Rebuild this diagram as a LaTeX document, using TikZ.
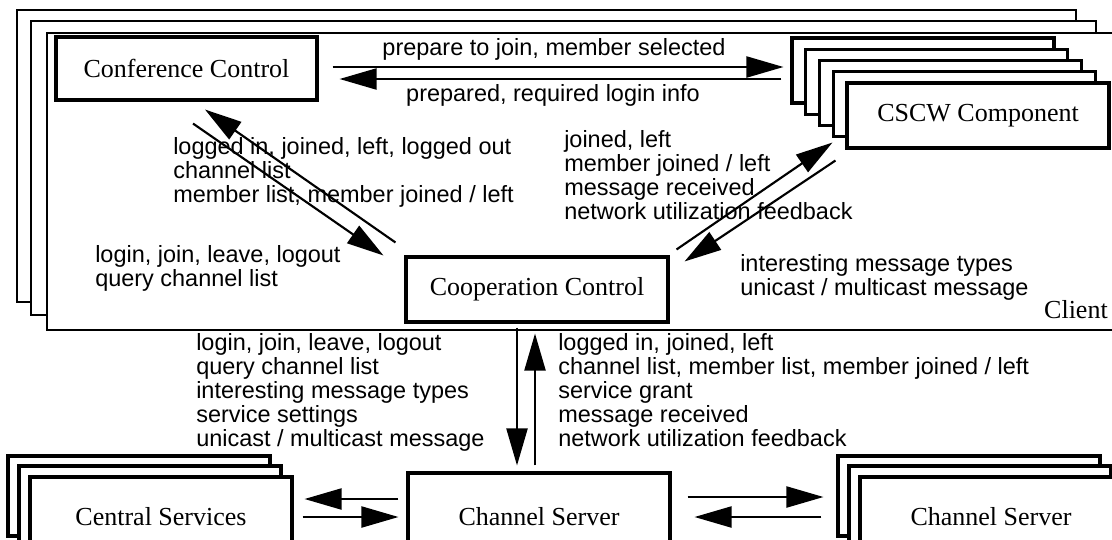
\documentclass[tikz,border=0pt]{standalone}
\usepackage{fontspec}
\setmainfont{Liberation Serif}
\setsansfont{Liberation Sans}
\usetikzlibrary{arrows.meta,calc}
\newcommand{\mylines}[1]{\begin{tabular}[t]{@{}l@{}}#1\end{tabular}}
\begin{document}
\begin{tikzpicture}[x=0.75pt,y=-0.75pt,
  frame/.style={draw,fill=white,line width=2pt},
  box/.style={draw,fill=white,line width=2.3pt,inner sep=0pt,
    font=\fontsize{19.5}{19.5}\selectfont},
  bw/.style={minimum width=196.5pt},
  cs/.style={box,bw,minimum height=48.75pt},
  low/.style={box,bw,minimum height=60pt},
  lab/.style={inner sep=0pt,font=\sffamily\fontsize{17.6}{17.6}\selectfont},
  arr/.style={line width=1.6pt,-{Triangle[length=27.75pt,width=15.75pt]}}]
\useasboundingbox (0,0) rectangle (1112,539);
\fill[white] (0,0) rectangle (1112,539);
\clip (0,0) rectangle (1112,539);
% client frames
\draw[frame] (17,10) rectangle (1076,302);
\draw[frame] (31,21) rectangle (1096,315);
\draw[frame] (47,33) rectangle (1130,330);
\node[inner sep=0pt,anchor=base east,font=\fontsize{19.5}{19.5}\selectfont] (client) at (1108,318) {Client};
% boxes
\node[box,minimum width=195.75pt,minimum height=47.25pt] (conf) at (186.5,68.5) {Conference Control};
\foreach \i in {0,...,3} \node[cs] (cs\i) at ({923+13.75*\i},{70.5+11.25*\i}) {};
\node[cs] (cscw) at (978,115.5) {CSCW Component};
\node[cs] (coop) at (537,289.5) {Cooperation Control};
\node[box,bw,minimum height=66pt] (chan) at (539,517) {Channel Server};
\node[low] (cen0) at (139,496) {};
\node[low] (cen1) at (150,506) {};
\node[low] (cen) at (161,517) {Central Services};
\node[low] (rs0) at (969,496) {};
\node[low] (rs1) at (980,506) {};
\node[low] (rs) at (991,517) {Channel Server};
% labels
\node[lab,anchor=base] (l1) at (554,55) {prepare to join, member selected};
\node[lab,anchor=base] (l2) at (553,101) {prepared, required login info};
\node[lab,anchor=base west] (l3) at (173,154) {\mylines{logged in, joined, left, logged out\\channel list\\member list, member joined / left}};
\node[lab,anchor=base west] (l4) at (95,262) {\mylines{login, join, leave, logout\\query channel list}};
\node[lab,anchor=base west] (l5) at (564,147) {\mylines{joined, left\\member joined / left\\message received\\network utilization feedback}};
\node[lab,anchor=base west] (l6) at (740,271) {\mylines{interesting message types\\unicast / multicast message}};
\node[lab,anchor=base west] (l7) at (196,350) {\mylines{login, join, leave, logout\\query channel list\\interesting message types\\service settings\\unicast / multicast message}};
\node[lab,anchor=base west] (l8) at (558,350) {\mylines{logged in, joined, left\\channel list, member list, member joined / left\\service grant\\message received\\network utilization feedback}};
% connectors
\draw[arr] ($(conf.east)+(14,-1.5)$) -- ($(cs0.west)+(-7,-3.5)$);
\draw[arr] ($(cs0.west)+(-9,8.5)$) -- ($(conf.east)+(21,10.5)$);
\draw[arr] ($(coop.north west)+(-9,-13)$) -- ($(conf.south)+(18.5,8)$);
\draw[arr] ($(conf.south)+(6.5,22)$) -- ($(coop.north west)+(-21,0)$);
\draw[arr] ($(coop.north east)+(7,-6)$) -- ($(cscw.south west)+(-13,-7)$);
\draw[arr] ($(cscw.south west)+(-10,11)$) -- ($(coop.north east)+(15,6)$);
\draw[arr] ($(coop.south)+(-20,4)$) -- ($(chan.north)+(-22,-6)$);
\draw[arr] ($(chan.north)+(-4,-6)$) -- ($(coop.south)+(-2,10)$);
\draw[arr] ($(chan.west)+(-8,-18)$) -- ($(cen.east)+(11,-18)$);
\draw[arr] ($(cen.east)+(9,0)$) -- ($(chan.west)+(-8,0)$);
\draw[arr] ($(chan.east)+(16,-20)$) -- ($(rs0.west)+(-13,1)$);
\draw[arr] ($(rs0.west)+(-15,21)$) -- ($(chan.east)+(23,0)$);
\end{tikzpicture}
\end{document}
